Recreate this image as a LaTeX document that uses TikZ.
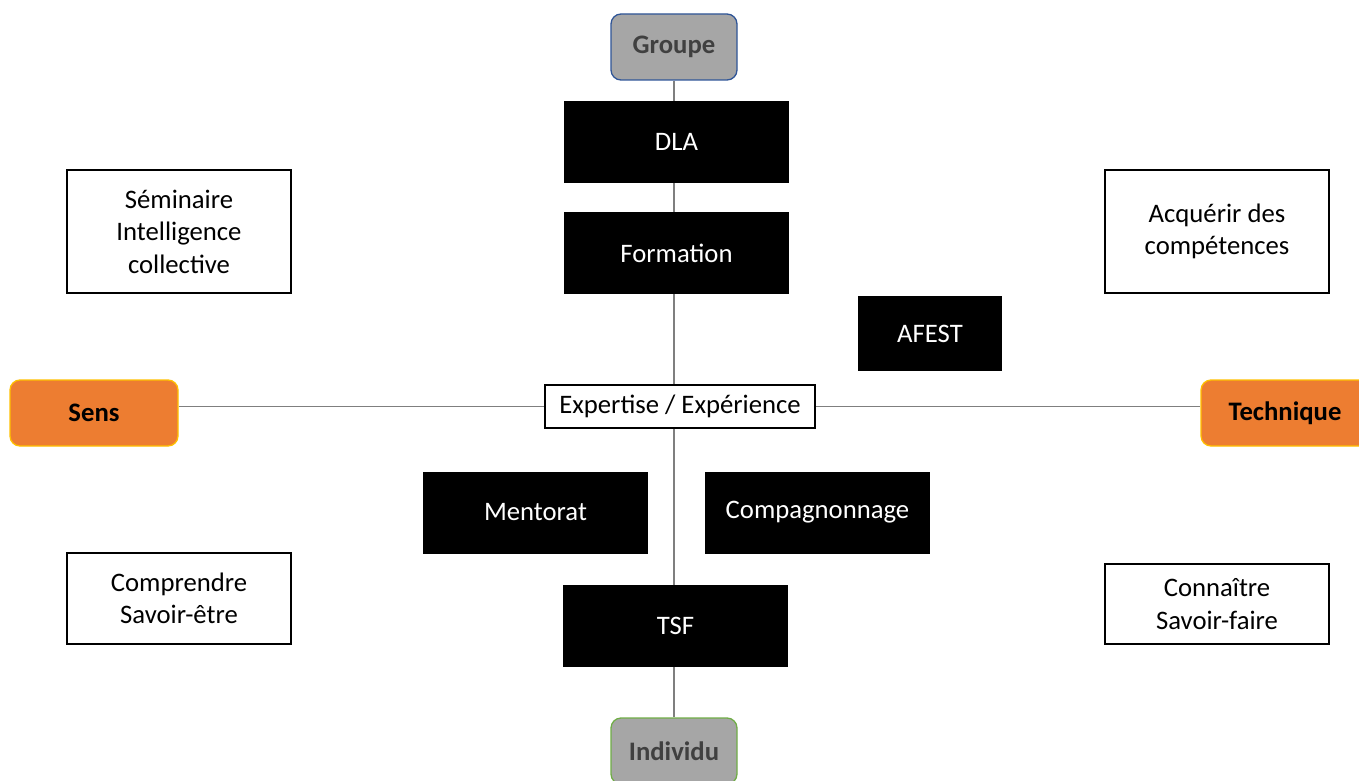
\documentclass[tikz,border=0pt]{standalone}
\usepackage{fontspec}
\setmainfont{Carlito}
\usetikzlibrary{backgrounds}
\definecolor{axisgray}{HTML}{A6A6A6}
\definecolor{linegray}{HTML}{7F7F7F}
\definecolor{orng}{HTML}{ED7D31}
\definecolor{gold}{HTML}{FFC000}
\definecolor{blueb}{HTML}{2F5597}
\definecolor{greenb}{HTML}{70AD47}
\definecolor{darktext}{HTML}{404040}
\tikzset{
  base/.style={inner sep=0pt, align=center, font=\fontsize{26.7}{32.5}\selectfont},
  blackbox/.style={base, fill=black, text=white, minimum width=225pt, minimum height=82pt},
  whitebox/.style={base, fill=white, draw=black, line width=1.3pt, minimum width=224pt},
  axisbox/.style={base, rounded corners=10pt, line width=1.3pt, minimum width=126pt, minimum height=66pt, font=\fontsize{26.7}{32.5}\selectfont\bfseries},
  pole/.style={axisbox, fill=orng, draw=gold, minimum width=168pt, text=black},
  vpole/.style={axisbox, fill=axisgray, text=darktext},
  axisline/.style={draw=linegray, line width=1.3pt}
}
\begin{document}
\begin{tikzpicture}[x=1pt,y=-1pt]
\useasboundingbox (0,0) rectangle (1359,781);
\clip (0,0) rectangle (1359,781);
\node[vpole, draw=blueb] (groupe) at (674,47) {Groupe};
\node[vpole, draw=greenb] (individu) at (674,751) {Individu};
\node[pole] (sens) at (94,413) {Sens};
\node[pole] (technique) at (1285,413) {Technique};
\node[blackbox] (dla) at (676.5,142) {DLA};
\node[blackbox] (formation) at (676.5,253) {Formation};
\node[blackbox, minimum width=144pt, minimum height=75pt] (afest) at (930,333.5) {AFEST};
\node[whitebox, minimum width=270pt, minimum height=43pt] (expertise) at (680,406.5) {Expertise / Expérience};
\node[blackbox] (mentorat) at (535.5,512.5) {Mentorat};
\node[blackbox] (compagnonnage) at (817.5,512.5) {Compagnonnage};
\node[blackbox] (tsf) at (675.5,626) {TSF};
\node[whitebox, minimum height=123pt] (seminaire) at (179,231.5) {Séminaire\\Intelligence\\collective};
\node[whitebox, minimum height=123pt] (acquerir) at (1217,231.5) {Acquérir des\\compétences};
\node[whitebox, minimum height=91pt] (comprendre) at (179,598.5) {Comprendre\\Savoir-être};
\node[whitebox, minimum height=80pt] (connaitre) at (1217,604) {Connaître\\Savoir-faire};
\begin{scope}[on background layer]
\draw[axisline] (groupe.south) -- (individu.north);
\draw[axisline] (expertise.west -| sens.east) -- (expertise.west);
\draw[axisline] (expertise.east) -- (expertise.east -| technique.west);
\end{scope}
\end{tikzpicture}
\end{document}
